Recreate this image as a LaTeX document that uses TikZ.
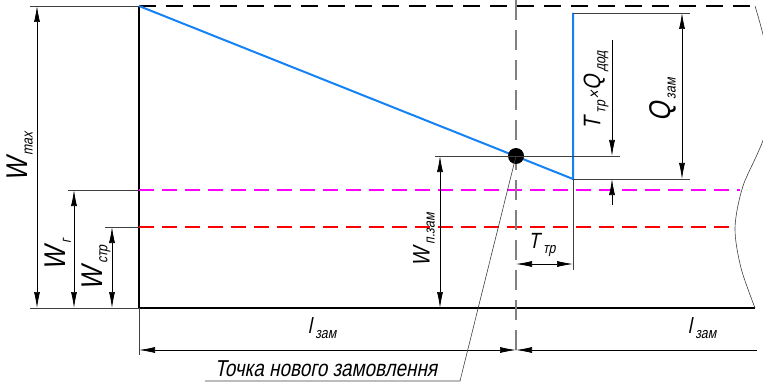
\documentclass[tikz,border=0pt]{standalone}
\usepackage{fontspec}
\newfontfamily\gost{Liberation Sans}[FakeStretch=0.82,FakeSlant=0.2]
\usetikzlibrary{arrows.meta}
\definecolor{lvlmag}{RGB}{255,0,255}
\definecolor{lvlred}{RGB}{255,0,0}
\newcommand{\lbl}[3]{{\fontsize{#1}{#1}\selectfont #2}\kern3.5pt\raisebox{-5pt}{\fontsize{15}{15}\selectfont #3}}
\tikzset{dimtip/.tip={Latex[length=16pt,width=6pt]}}

\begin{document}
\begin{tikzpicture}[x=1pt, y=-1pt,
  every node/.style={font=\gost, inner sep=1pt},
  axis/.style={line width=2.4pt, black},
  ext/.style={line width=0.6pt, black!75},
  dimline/.style={line width=0.7pt, black},
  level/.style={line width=2pt, dash pattern=on 15pt off 8pt},
  stock/.style={line width=2pt, color={rgb,255:red,20;green,130;blue,245}}
]
  \useasboundingbox (0,0) rectangle (763,385);
  % main points
  \coordinate (top) at (139,6);
  \coordinate (O) at (139,308);
  \coordinate (P) at (516,156);
  \coordinate (B) at (573,179);
  \coordinate (Bt) at (573,13);
  % frame and levels
  \draw[axis] (top) -- (O) -- (755,308);
  \draw[axis, dash pattern=on 17pt off 10pt] (top) -- (755,6);
  \draw[level, lvlmag] (139,190) -- (740,190);
  \draw[level, lvlred] (139,227) -- (735,227);
  \draw[gray, line width=1.6pt, dash pattern=on 20pt off 10pt] (516,0) -- (516,355);
  \draw[ext] plot[smooth] coordinates {(755,6) (768,60) (766,130) (743,186) (735,228) (741,268) (755,308)};
  % stock curve
  \draw[stock] (top) -- (B) -- (Bt);
  \fill (P) circle[radius=8pt];
  % extension lines
  \draw[ext] (30,6) -- (top);
  \draw[ext] (30,308) -- (O) -- (139,355);
  \draw[ext] (68,190) -- (139,190);
  \draw[ext] (105,227) -- (139,227);
  \draw[ext] (435,156) -- (620,156);
  \draw[ext] (B) -- (690,179);
  \draw[ext] (Bt) -- (690,13);
  \draw[ext] (B) -- (573,270);
  % dimensions
  \draw[dimline, dimtip-dimtip] (37,6) -- (37,308);
  \draw[dimline, dimtip-dimtip] (74,190) -- (74,308);
  \draw[dimline, dimtip-dimtip] (112,227) -- (112,308);
  \draw[dimline, dimtip-dimtip] (440,156) -- (440,308);
  \draw[dimline, dimtip-dimtip] (682,13) -- (682,179);
  \draw[dimline, -dimtip] (612,40) -- (612,156);
  \draw[dimline, -dimtip] (612,205) -- (612,179);
  \draw[dimline, dimtip-dimtip] (516,264) -- (573,264);
  \draw[dimline, dimtip-dimtip] (139,350) -- (516,350);
  \draw[dimline, dimtip-] (516,350) -- (757,350);
  % labels
  \node[rotate=90] (wmax) at (20,157) {\lbl{30}{W}{max}};
  \node[rotate=90] (wg) at (58,255) {\lbl{30}{W}{г}};
  \node[rotate=90] (wstr) at (96,268) {\lbl{30}{W}{стр}};
  \node[rotate=90] (wpz) at (424,240) {\lbl{24}{W}{п.зам}};
  \node[rotate=90] (tq) at (596,90) {\lbl{24}{T}{тр}\,{\fontsize{18}{18}\selectfont ×}\lbl{24}{Q}{дод}};
  \node[rotate=90] (qz) at (663,100) {\lbl{30}{Q}{зам}};
  \node (ttr) at (542,245) {\lbl{22}{T}{тр}};
  \node (lz1) at (322,328) {\lbl{22}{l}{зам}};
  \node (lz2) at (702,328) {\lbl{22}{l}{зам}};
  % leader to order point
  \node[anchor=base] (newpt) at (326,376) {\fontsize{23}{23}\selectfont Точка нового замовлення};
  \draw[ext] (P) -- (460,381) -- (205,381);
\end{tikzpicture}
\end{document}
